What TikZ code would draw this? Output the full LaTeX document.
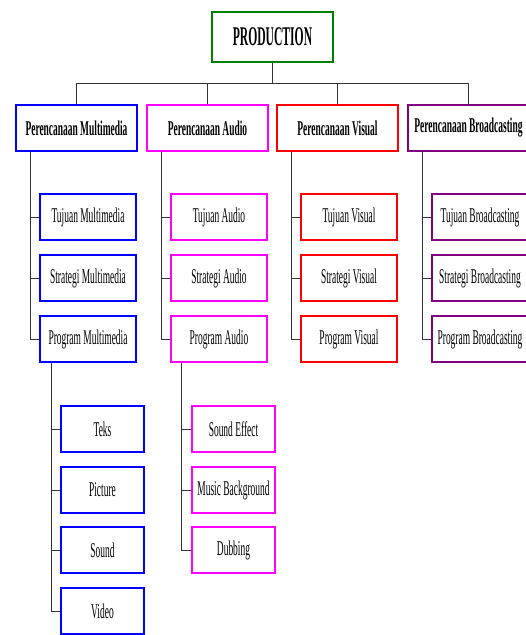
\documentclass[tikz,border=0pt]{standalone}
\usepackage{fontspec}
\setmainfont{Liberation Serif}[FakeStretch=0.45]
\newfontfamily\prodfont{Liberation Serif}[FakeStretch=0.43]
\definecolor{prodgreen}{RGB}{0,128,0}
\definecolor{mmblue}{RGB}{0,0,255}
\definecolor{aumagenta}{RGB}{255,0,255}
\definecolor{vired}{RGB}{255,0,0}
\definecolor{brpurple}{RGB}{128,0,128}
\tikzset{
  box/.style={draw, line width=1.4pt, minimum height=46pt, inner sep=1pt, text=black, font=\fontsize{21}{25}\selectfont},
  head/.style={box, minimum width=121pt, font=\fontsize{21}{25}\selectfont\bfseries},
  sub/.style={box, minimum width=96pt},
  leaf/.style={box, minimum width=83pt},
  link/.style={draw=black!80, line width=0.8pt}
}
\begin{document}
\begin{tikzpicture}[x=1pt, y=-1pt]
\useasboundingbox (0,0) rectangle (526,635);

\node[box, draw=prodgreen, minimum width=121pt, minimum height=50pt, font=\prodfont\fontsize{27}{31}\selectfont\bfseries] (prod) at (272.5,37) {PRODUCTION};
\coordinate (bar) at (272.5,83);

\node[head, draw=mmblue] (p_mm) at (76.5,128) {Perencanaan Multimedia};
\node[head, draw=aumagenta] (p_au) at (207.5,128) {Perencanaan Audio};
\node[head, draw=vired] (p_vi) at (337.5,128) {Perencanaan Visual};
\node[head, draw=brpurple] (p_br) at (468.5,128) {Perencanaan Broadcasting};

\node[sub, draw=mmblue] (mm_1) at (88,217) {Tujuan Multimedia};
\node[sub, draw=mmblue] (mm_2) at (88,278) {Strategi Multimedia};
\node[sub, draw=mmblue] (mm_3) at (88,339) {Program Multimedia};

\node[sub, draw=aumagenta] (au_1) at (219,217) {Tujuan Audio};
\node[sub, draw=aumagenta] (au_2) at (219,278) {Strategi Audio};
\node[sub, draw=aumagenta] (au_3) at (219,339) {Program Audio};

\node[sub, draw=vired] (vi_1) at (349,217) {Tujuan Visual};
\node[sub, draw=vired] (vi_2) at (349,278) {Strategi Visual};
\node[sub, draw=vired] (vi_3) at (349,339) {Program Visual};

\node[sub, draw=brpurple] (br_1) at (480,217) {Tujuan Broadcasting};
\node[sub, draw=brpurple] (br_2) at (480,278) {Strategi Broadcasting};
\node[sub, draw=brpurple] (br_3) at (480,339) {Program Broadcasting};

\node[leaf, draw=mmblue] (mmp_1) at (102.5,429) {Teks};
\node[leaf, draw=mmblue] (mmp_2) at (102.5,490) {Picture};
\node[leaf, draw=mmblue] (mmp_3) at (102.5,550) {Sound};
\node[leaf, draw=mmblue] (mmp_4) at (102.5,611) {Video};

\node[leaf, draw=aumagenta] (aup_1) at (233.5,429) {Sound Effect};
\node[leaf, draw=aumagenta] (aup_2) at (233.5,490) {Music Background};
\node[leaf, draw=aumagenta] (aup_3) at (233.5,550) {Dubbing};

\draw[link] (prod.south) -- (bar);
\draw[link] (p_mm.north) |- (bar);
\draw[link] (p_au.north) |- (bar);
\draw[link] (p_vi.north) |- (bar);
\draw[link] (p_br.north) |- (bar);

\draw[link] ([xshift=15pt]p_mm.south west) |- (mm_1.west);
\draw[link] ([xshift=15pt]p_mm.south west) |- (mm_2.west);
\draw[link] ([xshift=15pt]p_mm.south west) |- (mm_3.west);
\draw[link] ([xshift=15pt]p_au.south west) |- (au_1.west);
\draw[link] ([xshift=15pt]p_au.south west) |- (au_2.west);
\draw[link] ([xshift=15pt]p_au.south west) |- (au_3.west);
\draw[link] ([xshift=15pt]p_vi.south west) |- (vi_1.west);
\draw[link] ([xshift=15pt]p_vi.south west) |- (vi_2.west);
\draw[link] ([xshift=15pt]p_vi.south west) |- (vi_3.west);
\draw[link] ([xshift=15pt]p_br.south west) |- (br_1.west);
\draw[link] ([xshift=15pt]p_br.south west) |- (br_2.west);
\draw[link] ([xshift=15pt]p_br.south west) |- (br_3.west);

\draw[link] ([xshift=12pt]mm_3.south west) |- (mmp_1.west);
\draw[link] ([xshift=12pt]mm_3.south west) |- (mmp_2.west);
\draw[link] ([xshift=12pt]mm_3.south west) |- (mmp_3.west);
\draw[link] ([xshift=12pt]mm_3.south west) |- (mmp_4.west);
\draw[link] ([xshift=11pt]au_3.south west) |- (aup_1.west);
\draw[link] ([xshift=11pt]au_3.south west) |- (aup_2.west);
\draw[link] ([xshift=11pt]au_3.south west) |- (aup_3.west);
\end{tikzpicture}
\end{document}
